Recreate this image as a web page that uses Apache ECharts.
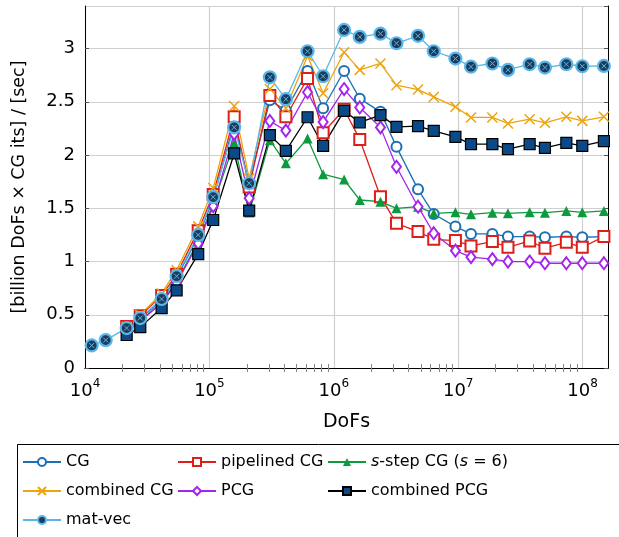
<!DOCTYPE html>
<html>
<head>
<meta charset="utf-8">
<script src="https://cdn.jsdelivr.net/npm/echarts@6/dist/echarts.min.js"></script>
<style>
html,body{margin:0;padding:0;background:#fff;}
#chart{width:619px;height:537px;}
</style>
</head>
<body>
<div id="chart"></div>
<script>
// ---- data ----
const dofs = [11320, 14670, 21620, 27810, 41310, 54520, 81280, 107300, 158200, 208800,
  306100, 411700, 615000, 820500, 1210000, 1617000, 2372000, 3190000, 4753000, 6357000,
  9496000, 12670000, 18820000, 25120000, 37520000, 49800000, 74000000, 99400000, 148300000];

const cgVals = [null, null, 0.36, 0.46, 0.64, 0.85, 1.23, 1.59, 2.30, 1.74, 2.515, 2.42, 2.79, 2.44, 2.79, 2.53, 2.406, 2.077, 1.678, 1.446, 1.328, 1.259, 1.259, 1.234, 1.234, 1.228, 1.234, 1.228, 1.234];
const pipelinedVals = [null, null, 0.39, 0.49, 0.68, 0.88, 1.29, 1.63, 2.36, 1.70, 2.56, 2.36, 2.72, 2.21, 2.43, 2.147, 1.609, 1.359, 1.281, 1.209, 1.197, 1.147, 1.187, 1.134, 1.193, 1.125, 1.181, 1.134, 1.234];
const sstepVals = [null, null, 0.34, 0.44, 0.62, 0.81, 1.19, 1.54, 2.11, 1.46, 2.14, 1.922, 2.156, 1.82, 1.77, 1.578, 1.562, 1.50, 1.515, 1.453, 1.462, 1.443, 1.459, 1.453, 1.462, 1.459, 1.475, 1.462, 1.475];
const combinedCGVals = [null, null, 0.385, 0.50, 0.70, 0.92, 1.33, 1.69, 2.46, 1.78, 2.62, 2.44, 2.93, 2.58, 2.965, 2.80, 2.86, 2.656, 2.615, 2.546, 2.453, 2.353, 2.353, 2.297, 2.337, 2.303, 2.359, 2.321, 2.359];
const pcgVals = [null, null, 0.34, 0.44, 0.61, 0.80, 1.17, 1.52, 2.20, 1.594, 2.32, 2.23, 2.59, 2.31, 2.62, 2.447, 2.26, 1.89, 1.515, 1.266, 1.103, 1.041, 1.022, 1.00, 1.00, 0.984, 0.984, 0.984, 0.984];
const combinedPCGVals = [null, null, 0.31, 0.384, 0.5625, 0.73, 1.07, 1.39, 2.015, 1.478, 2.187, 2.04, 2.355, 2.087, 2.415, 2.306, 2.375, 2.265, 2.272, 2.228, 2.171, 2.103, 2.103, 2.056, 2.103, 2.068, 2.115, 2.087, 2.131];
const matvecVals = [0.212, 0.262, 0.375, 0.469, 0.648, 0.862, 1.25, 1.605, 2.26, 1.735, 2.73, 2.525, 2.975, 2.74, 3.175, 3.11, 3.14, 3.05, 3.12, 2.975, 2.906, 2.83, 2.86, 2.80, 2.853, 2.822, 2.853, 2.834, 2.837];

const xMajorTicks = [1e4, 1e5, 1e6, 1e7, 1e8];
const yTickLabels = ['0', '0.5', '1', '1.5', '2', '2.5', '3'];

// ---- helpers ----
const FONT = 'DejaVu Sans';
function pairs(vals) {
  const out = [];
  for (let i = 0; i < dofs.length; i++) if (vals[i] !== null) out.push([dofs[i], vals[i]]);
  return out;
}
const minorTicks = [];
for (let e = 4; e <= 8; e++) for (let m = 2; m <= 9; m++) {
  const v = m * Math.pow(10, e);
  if (v < 1.6e8) minorTicks.push(v);
}
function isPow10(v) {
  const l = Math.log10(v);
  return Math.abs(l - Math.round(l)) < 1e-6;
}

const xMin = 1e4, xMax = 1.6e8;

function lineSeries(name, vals, color, symbol, size, extraItem, lineColor) {
  return {
    name: name, type: 'line', data: pairs(vals),
    symbol: symbol, symbolSize: size,
    lineStyle: { color: lineColor || color, width: 1.3 },
    itemStyle: Object.assign({ color: color }, extraItem || {}),
    emphasis: { disabled: true },
    animation: false
  };
}

const xPath = 'path://M0,0L10,10M10,0L0,10';

const series = [
  lineSeries('CG', cgVals, '#1a6fb5', 'emptyCircle', 10, { borderWidth: 1.3 }),
  lineSeries('pipelined CG', pipelinedVals, '#dc1f1a', 'emptyRect', 11, { borderWidth: 1.3 }),
  lineSeries('s-step CG (s = 6)', sstepVals, '#0d9a3e', 'triangle', 10),
  lineSeries('combined CG', combinedCGVals, '#eea40e', xPath, 10, { borderColor: '#eea40e', borderWidth: 1.5 }),
  lineSeries('PCG', pcgVals, '#a424ee', 'emptyDiamond', [9, 12], { borderWidth: 1.3 }),
  lineSeries('combined PCG', combinedPCGVals, '#0b4a86', 'rect', 11, { borderColor: '#000', borderWidth: 1.2 }, '#000'),
  lineSeries('mat-vec', matvecVals, '#1d3b5a', 'circle', 12, { borderColor: '#5ab7e8', borderWidth: 2.2 }, '#5ab7e8'),
  {
    name: 'mat-vec-x', type: 'line', data: pairs(matvecVals),
    symbol: xPath, symbolSize: 5,
    lineStyle: { width: 0, opacity: 0 },
    itemStyle: { color: '#5ab7e8', borderColor: '#5ab7e8', borderWidth: 1 },
    silent: true, animation: false, emphasis: { disabled: true }
  }
];

const legendCommon = {
  orient: 'vertical', top: 452, padding: 0,
  itemWidth: 38, itemHeight: 10, itemGap: 9,
  selectedMode: false,
  textStyle: { fontFamily: FONT, fontSize: 16, color: '#000', lineHeight: 20,
    rich: { i: { fontFamily: FONT, fontSize: 16, fontStyle: 'italic', color: '#000' } } }
};

const option = {
  backgroundColor: '#fff',
  animation: false,
  grid: { left: 85, right: 11, top: 6, bottom: 169, containLabel: false },
  xAxis: [{
    type: 'log', logBase: 10, min: xMin, max: xMax,
    name: 'DoFs', nameLocation: 'middle', nameGap: 45,
    nameTextStyle: { fontFamily: FONT, fontSize: 19, color: '#000' },
    axisLine: { show: true, lineStyle: { color: '#000', width: 1 } },
    axisTick: { show: true, inside: true, length: 4, customValues: minorTicks, lineStyle: { color: '#888' } },
    minorTick: { show: false },
    axisLabel: {
      customValues: xMajorTicks,
      margin: 10,
      formatter: function (v) {
        if (!isPow10(v)) return '';
        return '{b|10}{s|' + Math.round(Math.log10(v)) + '}';
      },
      rich: {
        b: { fontFamily: FONT, fontSize: 18, color: '#000', verticalAlign: 'bottom', lineHeight: 22 },
        s: { fontFamily: FONT, fontSize: 12, color: '#000', verticalAlign: 'top', lineHeight: 14 }
      }
    },
    splitLine: { show: false }
  }, {
    type: 'log', logBase: 10, min: xMin, max: xMax, position: 'top',
    axisLine: { show: true, lineStyle: { color: '#000', width: 1 } },
    axisTick: { show: true, inside: true, length: 4, customValues: minorTicks, lineStyle: { color: '#888' } },
    axisLabel: { show: false },
    splitLine: { show: false }
  }, {
    type: 'log', logBase: 10, min: xMin, max: xMax, position: 'bottom',
    axisLine: { show: false },
    axisTick: { show: false },
    axisLabel: { show: false },
    splitLine: { show: true, lineStyle: { color: '#cfcfcf', width: 1.2 } }
  }],
  yAxis: [{
    type: 'value', min: 0, max: 3.4, interval: 0.5,
    name: '[billion DoFs \u00d7 CG its] / [sec]', nameLocation: 'middle', nameGap: 57, nameRotate: 90,
    nameTextStyle: { fontFamily: FONT, fontSize: 17.5, color: '#000' },
    axisLine: { show: true, lineStyle: { color: '#000', width: 1 } },
    axisTick: { show: true, inside: true, length: 4, lineStyle: { color: '#555' } },
    axisLabel: {
      fontFamily: FONT, fontSize: 18, color: '#000', margin: 10, showMaxLabel: false,
      formatter: function (v) {
        const idx = Math.round(v / 0.5);
        if (Math.abs(v - idx * 0.5) > 1e-6) return '';
        return yTickLabels[idx] !== undefined ? yTickLabels[idx] : '';
      }
    },
    splitLine: { show: true, lineStyle: { color: '#cfcfcf', width: 1.2 } }
  }, {
    type: 'value', min: 0, max: 3.4, interval: 0.5, position: 'right',
    axisLine: { show: true, lineStyle: { color: '#000', width: 1 } },
    axisTick: { show: true, inside: true, length: 4, lineStyle: { color: '#555' } },
    axisLabel: { show: false },
    splitLine: { show: false }
  }],
  legend: [
    Object.assign({}, legendCommon, { left: 22, data: ['CG', 'combined CG', 'mat-vec'] }),
    Object.assign({}, legendCommon, { left: 177, data: ['pipelined CG', 'PCG'] }),
    Object.assign({}, legendCommon, { left: 327, data: ['s-step CG (s = 6)', 'combined PCG'],
      formatter: function (n) { return n === 's-step CG (s = 6)' ? '{i|s}-step CG ({i|s} = 6)' : n; } })
  ],
  graphic: [{
    type: 'rect', left: 15, top: 442, silent: true,
    shape: { width: 602, height: 120 },
    style: { fill: 'none', stroke: '#000', lineWidth: 1 }
  }],
  series: series
};

const chart = echarts.init(document.getElementById('chart'), null, { renderer: 'canvas' });
chart.setOption(option);
</script>
</body>
</html>
